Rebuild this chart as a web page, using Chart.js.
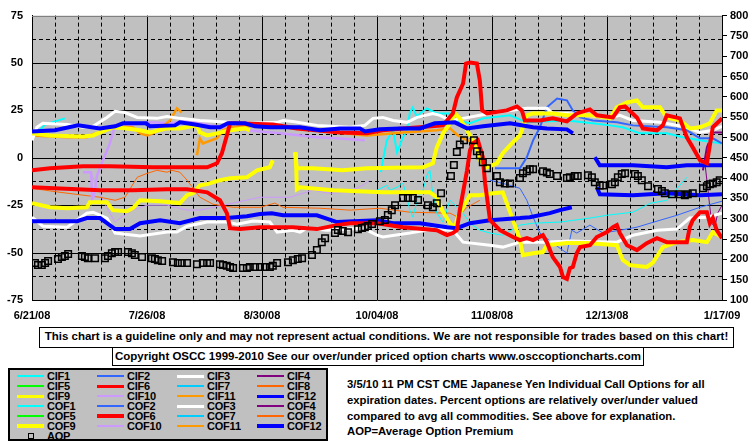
<!DOCTYPE html>
<html>
<head>
<meta charset="utf-8">
<script src="https://cdn.jsdelivr.net/npm/chart.js@4.4.0/dist/chart.umd.min.js"></script>
<style>
  body { margin: 0; background: #fff; }
  #wrap { position: relative; width: 755px; height: 446px; overflow: hidden;
          font-family: "Liberation Sans", Arial, sans-serif; font-weight: bold; color: #000; }
  #chart { position: absolute; left: 0; top: 0; }
  .box { position: absolute; border: 1px solid #000; background: #fff; font-size: 11.5px;
         line-height: 17px; text-align: center; white-space: nowrap; color: #000; }
  #legend { position: absolute; left: 8px; top: 368px; width: 316px; height: 69px;
            border: 2px solid #000; background: #c0c0c0; }
  .lg-line { position: absolute; }
  .lg-text { position: absolute; font-size: 11px; line-height: 10px; white-space: nowrap;
             color: #000; letter-spacing: -0.2px; }
  .lg-box { position: absolute; width: 4px; height: 4px; border: 1.5px solid #000; }
  .note { position: absolute; left: 347px; font-size: 11.3px; line-height: 12px; white-space: nowrap; color: #000; }
</style>
</head>
<body>
<div id="wrap">
  <canvas id="chart" width="755" height="322"></canvas>
  <div class="box" style="left:39px;top:327px;width:693px;height:19px;">This chart is a guideline only and may not represent actual conditions. We are not responsible for trades based on this chart!</div>
  <div class="box" style="left:112px;top:347px;width:530px;height:17px;line-height:16px;">Copyright OSCC 1999-2010 See our over/under priced option charts www.osccoptioncharts.com</div>
  <div id="legend"></div>
  <div id="notes"></div>
</div>
<script>
// x = days since 6/21/08, y = % over/under (left axis); AOP on the right axis
const DATE_TICKS = ['6/21/08', '7/26/08', '8/30/08', '10/04/08', '11/08/08', '12/13/08', '1/17/09'];

const COF12 = [[0,13.9],[7,14.5],[14,17.1],[20.7,15.5],[25.3,16.6],[27.7,18.2],[34.7,18.2],[35.9,16.6],[43.5,17.1],[45,18.7],[49.6,17.6],[54.2,16.1],[57.2,16.1],[59.6,18.2],[64.8,18.2],[67.9,16.6],[72.4,16.1],[81.6,16.1],[87.6,14.5],[93.7,15.5],[99.8,15.5],[101.3,13.9],[105.9,15],[112,15.5],[118.1,15.5],[122.6,18.2],[128.7,18.7],[132.4,15.5],[137.3,16.6],[145.5,18.2],[152.5,16.1],[156.7,15.5],[162.8,15],[164.6,12.9]];
const CIF12 = [[0,-33.4],[13.7,-33.4],[16.7,-31.8],[20.7,-31.8],[25.3,-37.6],[29.8,-37.6],[32.9,-34.5],[39,-32.9],[45,-34.5],[51.1,-31.8],[59.3,-31.8],[65.4,-30.8],[69.4,-29.7],[73,-29.2],[76.4,-30.3],[86.7,-30.3],[92.8,-33.9],[105,-32.9],[109.9,-34.5],[118.1,-34.5],[126.3,-36.6],[129.3,-37.1],[133.3,-34.5],[139.4,-32.9],[148.5,-31.8],[151.5,-31.3],[157.6,-29.2],[160.7,-27.6],[164.3,-26.1]];
const COF12_NEXT = [[171.3,0.3],[172.8,-3.9],[182.9,-3.9],[193.2,-5],[199.3,-3.9],[210,-3.9]];
const CIF12_NEXT = [[171.9,-15.5],[172.8,-19.2],[182.9,-19.7],[193.2,-18.7],[203.3,-19.7],[210,-19.2]];

const COF6 = [[0,-6.6],[5.5,-5.5],[15.5,-4.5],[23.7,-4.5],[36.8,-5],[53.3,-5],[56.3,-2.9],[57.8,2.4],[59.3,11.8],[60.3,18.2],[61.8,18.2],[73.3,17.6],[80.6,15.5],[93.7,13.4],[101.9,12.9],[106.8,14.5],[112.9,15.5],[125.1,17.1],[128.1,23.4],[129.3,31.8],[131.2,39.2],[132.1,49.7],[133.3,50.3],[135.4,49.7],[136.3,40.8],[137,25],[138.5,23.4],[144.5,25],[147.6,27.1],[149.1,25],[150,19.7],[154.6,19.7],[158.5,20.8],[162.8,19.2],[165.8,23.4],[169.8,25.5],[171.9,22.4],[176.8,21.3],[178.9,26.6],[180.5,27.1],[184.1,21.3],[185.9,15.5],[190.2,14.5],[192,17.1],[193.2,22.4],[197.2,20.8],[199.3,10.8],[201.1,5.5],[203.3,-1.3],[205.4,-2.9],[207.2,16.1],[210,20.8]];
const CIF6 = [[0,-15.5],[20.7,-17.1],[30.7,-17.1],[41.1,-16.6],[47.2,-16.6],[53.3,-18.2],[57.2,-22.4],[59.3,-29.2],[60.3,-37.1],[63.3,-37.6],[69.4,-36.6],[79.4,-36.6],[86.7,-37.6],[92.8,-35.5],[96.8,-34.5],[105,-34.5],[112.9,-36.6],[123.2,-38.2],[126.3,-40.8],[128.1,-39.7],[129.3,-38.2],[130.2,-27.6],[132.4,-6.6],[133.3,3.9],[134.2,7.6],[135.7,9.2],[137.2,0.3],[137.9,-13.4],[139.4,-32.9],[142.4,-38.2],[146.4,-41.8],[148.5,-43.4],[150.6,-42.4],[152.5,-43.4],[155.5,-40.8],[156.7,-44.5],[158.5,-52.4],[160.7,-57.6],[161.6,-62.9],[162.8,-63.9],[163.7,-58.2],[164.6,-57.6],[165.8,-50.3],[166.8,-47.1],[169.8,-46.1],[171.9,-41.8],[175,-39.2],[176.8,-36.6],[178,-35.5],[178.9,-39.7],[181.1,-46.1],[184.1,-48.7],[187.1,-45],[190.2,-42.4],[193.2,-44.5],[199.3,-44.5],[200.2,-36.6],[201.1,-32.9],[203.3,-28.7],[205.4,-28.7],[206.3,-34.5],[207.2,-31.8],[208.4,-38.2],[210,-42.4]];

const COF9 = [[0,12.9],[5.5,11.8],[15.5,11.3],[18.6,11.8],[20.7,13.4],[24.6,16.1],[28.9,15.5],[32.9,14.5],[35.9,13.4],[41.1,15.5],[45,15.5],[50.2,17.1],[51.1,13.4],[53.3,11.8],[56.3,12.9],[60.3,14.5],[64.8,15.5],[66.3,14.5]];
const CIF9 = [[0,-23.9],[5.5,-26.1],[10.7,-26.6],[16.7,-26.1],[17.6,-23.4],[22.8,-23.4],[24.6,-27.6],[28.9,-28.2],[30.7,-26.6],[32.9,-22.4],[39,-22.9],[45,-23.9],[47.2,-19.7],[49,-18.7],[51.1,-14.5],[53.3,-13.9],[57.2,-11.8],[60.3,-10.8],[65.4,-10.3],[68.5,-6.6],[72.4,-5],[73.3,-1.3]];
const COF9_NEXT = [[80,2.9],[80.6,-5.5],[85.5,-5.5],[94.6,-6.6],[101.9,-5.5],[119,-5],[122,-2.9],[123.2,5.5],[125.1,12.9],[127.2,18.2],[128.7,23.4],[130.2,20.8],[132.4,14.5],[135.4,5.5],[136.3,-1.3],[138.5,-5],[141.5,-2.9],[143.3,2.4],[146.4,8.2],[148.5,11.8],[149.4,16.1],[150.6,22.4],[152.5,23.4],[158.5,23.4],[162.8,22.4],[170.7,22.4],[175.9,20.8],[178,26.6],[181.1,29.2],[184.1,30.3],[185.9,26.6],[191.1,26.6],[193.2,21.3],[197.2,19.7],[200.2,15.5],[203.3,16.1],[206.3,18.2],[208.4,25],[210,25]];
const CIF9_NEXT = [[80.3,2.9],[80.6,-16.6],[81.6,-15.5],[91.6,-17.1],[106.8,-18.2],[121.1,-18.2],[123.2,-20.8],[124.8,-27.6],[127.2,-34.5],[128.7,-36.6],[129.6,-31.3],[131.2,-26.1],[133.3,-19.7],[136.3,-19.7],[140.3,-18.7],[143.3,-18.2],[144.5,-23.9],[146.4,-32.9],[148.5,-43.4],[149.4,-51.3],[152.5,-50.3],[155.5,-49.7],[156.7,-46.1],[162.8,-45],[168.9,-45],[178,-46.1],[179.8,-53.9],[182,-56.6],[187.1,-57.6],[188.9,-55.5],[192,-47.1],[196.3,-44.5],[201.1,-43.4],[205.4,-44.5],[207.2,-39.2],[210,-41.8]];

const COF3 = [[0,9.2],[1.5,16.1],[3.3,18.2],[10.7,17.6],[15.5,16.1],[18.6,16.6],[22.8,21.3],[25.3,24.5],[28.3,23.9],[32,21.3],[38,20.8],[41.1,21.8],[45,20.8],[51.1,19.7],[60.3,18.7],[66.3,18.2],[74.6,18.7],[76.4,19.7],[79.4,19.2],[86.7,17.1],[96.8,16.1],[101.3,17.1],[103.8,20.8],[106.8,21.3],[109.9,19.7],[114.1,18.7],[117.2,21.3],[122,23.4],[124.2,22.4],[127.2,19.7],[131.2,20.8],[136.3,22.4],[141,23.9],[145.5,25],[150.6,26.1],[156.7,26.1],[158.5,23.4],[162.8,23.4],[175.9,21.3],[178.9,22.4],[182.9,19.7],[191.1,18.7],[199.3,16.1],[203.3,13.4],[207.2,14.5],[210,16.6]];
const CIF3 = [[0,-31.3],[3.3,-36.1],[10.7,-36.6],[16.7,-29.2],[18.6,-28.7],[22.8,-31.8],[25.3,-39.7],[32.9,-41.3],[41.1,-39.2],[44.1,-39.2],[47.2,-36.1],[53.3,-33.9],[59.3,-33.9],[62.4,-35],[67.3,-33.4],[72.4,-33.9],[74.6,-39.2],[79.4,-38.2],[81.6,-39.2],[83.7,-37.1],[89.8,-38.2],[100.7,-37.1],[105,-40.8],[106.8,-41.8],[115,-39.7],[122,-37.6],[128.1,-38.2],[131.2,-44.5],[139.4,-46.1],[143.3,-47.1],[148.5,-44.5],[155.5,-44.5],[163.7,-43.9],[178,-44.5],[182.9,-40.8],[190.2,-38.2],[196.3,-37.6],[200.2,-31.8],[205.4,-31.3],[210,-29.2]];

const COF11 = [[0,11.8],[10.7,10.8],[16.7,10.8],[17.6,11.8],[25.9,16.6],[30.7,16.1],[32.9,12.9],[35,11.8],[36.8,12.9],[39,15.5],[42,19.7],[44.1,26.1],[45.6,23.9]];
const CIF11 = [[50.2,1.3],[51.1,10.3],[52,7.6],[56.3,10.3],[58.1,14.5],[60.3,16.1],[70.3,17.1],[80.6,15.5],[92.8,13.4],[101.9,11.8],[112.9,13.4],[123.2,14.5],[127.2,15.5],[129.6,11.8],[132.4,9.2],[136.3,7.6]];
const CIF8 = [[0,-16.1],[8.5,-18.2],[20.7,-20.8],[25.3,-22.4],[28.3,-20.8],[32,-10.3],[35,-8.2],[38,-6.6],[41.1,-7.6],[42.6,-6.6],[45,-7.6],[47.2,-11.8],[51.1,-20.8],[55.1,-24.5],[61.2,-26.1],[69.4,-26.1],[73.9,-23.9],[76.4,-26.1],[87.6,-26.6],[96.8,-27.6],[105.9,-26.6],[115,-28.7],[127.2,-29.2],[129.6,-31.3],[132.4,-26.1],[136.3,-22.4]];

const COF10 = [[15.5,-7.6],[18,-7.6],[18.3,-22.4],[18.9,-19.7],[19.8,-9.2],[21.6,-1.3],[23.7,7.6],[25.3,17.1],[28.3,17.1],[35.9,18.7],[42,18.2],[48.1,19.7],[51.1,18.2],[59.3,15.5],[75.5,12.9],[86.7,10.8],[92.8,10.3],[101.3,9.2]];
const CIF10 = [[18.3,-9.2],[19.8,-15.5],[21.6,-22.4],[23.7,-29.2],[25.3,-33.9],[26.8,-31.8],[30.7,-27.6],[35,-25],[41.1,-25],[47.2,-27.6],[51.1,-27.6],[55.1,-26.1],[61.2,-23.9],[69.4,-20.8],[78.5,-20.8],[85.5,-17.1],[90.7,-18.7],[95.9,-18.2],[100.7,-14.5],[102.9,-11.8]];

const COF1 = [[106.2,-7.6],[106.8,-1.3],[108,9.2],[109.9,14.5],[111.1,2.9],[112.9,10.8],[114.1,14.5],[115,23.9],[115.9,26.6],[117.2,21.3],[118.1,23.4],[120.2,26.1],[123.2,23.4],[127.2,23.4],[129.3,19.7],[133.3,18.2],[137.3,20.8],[145.5,22.4],[150.6,18.7],[162.8,19.7],[170.7,18.2],[175.9,17.1],[179.8,16.1],[185,12.9],[193.2,12.9],[198.1,10.8],[203.3,9.2],[210,7.6]];
const CIF1 = [[2,14],[4,17.6],[7,19.2],[10,20.8]];
const CIF7 = [[105,-17.1],[108,-14.5],[108.9,-17.1],[111.1,-15.5],[112.9,-13.4],[114.1,-20.8],[115,-27.6],[115.9,-31.3],[117.5,-20.8],[119,-17.1],[120.2,-9.2],[121.1,-6.6],[121.7,-15.5],[123.2,-29.2],[125.1,-33.9],[127.2,-22.4],[131.2,-29.2],[133.3,-34.5],[136.3,-38.2],[139.4,-39.7],[143.3,-40.8],[148.5,-35.5],[152.5,-34.5],[160.7,-33.9],[169.8,-31.8],[175,-30.3],[182.9,-28.7],[188.1,-24],[193.2,-22.4],[199.3,-10.3]];

const COF2 = [[140.9,-5.5],[148.5,-5.5],[150.6,0.3],[152.5,9.2],[154.6,16.1],[156.7,26.6],[159.8,31.3],[162.8,30.3],[164.6,25],[166.8,21.3],[170.7,19.7],[178,18.7],[182.9,17.1],[193.2,16.1],[199.3,14.5],[203.3,10.3],[207.2,10.3],[210,7.6]];
const CIF2 = [[139.4,-11.8],[145.5,-14.5],[148.5,-16.1],[150.6,-22.4],[152.5,-31.3],[154.6,-39.7],[158.5,-45],[162.8,-50.3],[164.3,-38.2],[165.8,-39.7],[169.8,-35.5],[173.8,-39.7],[178.9,-38.2],[184.1,-36.6],[188.1,-34.5],[196.3,-30.3],[203.3,-26.1],[210,-22.9]];

const COF4 = [[204.2,-6.6],[205.4,5.5],[207.2,13.4],[210,13.4]];
const CIF4 = [[204.8,-2.9],[205.4,-11.8],[206.3,-26.1],[206.9,-34.5],[207.8,-36.6],[208.7,-29.2],[210,-25]];

// average option premium, right axis
const AOP = [[0.9,191],[1.8,186],[3,186],[4,191],[4.9,196],[7.9,201],[9.1,206],[10,208],[11,213],[15.2,208],[16.1,206],[17,203],[19.2,203],[22.2,203],[23.1,208],[24.3,215],[25.3,218],[26.2,218],[29.2,218],[30.4,215],[31.3,211],[33.5,206],[36.5,203],[37.4,201],[38.3,198],[39.6,196],[42.9,193],[44.4,191],[45.6,191],[47.2,191],[50.2,188],[52,191],[53.3,191],[54.2,191],[57.2,188],[58.1,186],[59.3,184],[60.3,181],[61.2,179],[64.2,179],[65.4,179],[66.3,181],[67.9,181],[69.4,181],[70.9,181],[72.4,181],[73.3,184],[74.6,191],[77.9,193],[79.4,198],[80.9,201],[82.2,203],[85.2,211],[86.7,223],[88.2,242],[89.2,252],[92.2,265],[93.1,272],[94.6,270],[96.2,267],[99.2,274],[100.4,277],[101.3,279],[102.2,282],[103.5,287],[105.9,294],[107.4,297],[108.3,309],[109.5,321],[110.5,333],[112.9,351],[114.4,351],[115.9,351],[117.5,346],[120.5,333],[122,328],[123.2,338],[124.5,363],[127.5,405],[128.4,432],[129.3,464],[130.2,483],[131.5,493],[134.5,493],[135.4,466],[136.3,456],[137.2,439],[138.5,424],[141.5,405],[142.4,390],[143.9,387],[145.5,387],[148.5,400],[149.4,412],[150.6,417],[151.5,422],[152.5,422],[155.5,417],[156.7,414],[157.6,410],[159.8,405],[162.8,400],[163.7,402],[165.2,405],[166.1,405],[169.2,407],[170.4,402],[171.3,390],[172.8,382],[173.8,382],[176.5,385],[177.4,390],[178.3,402],[179.5,410],[180.5,412],[183.5,410],[184.4,405],[185.6,395],[187.5,380],[190.5,373],[191.7,368],[192.6,363],[194.8,360],[197.2,360],[198.7,358],[199.6,360],[201.1,363],[204.2,375],[205.4,380],[206.3,385],[207.2,387],[208.4,390],[209.3,395]];

// legend rows (label, colour, line width)
const LEGEND = [
  ['CIF1','#00ffff',1.5],['CIF2','#3366ff',1.5],['CIF3','#ffffff',3],['CIF4','#800080',1.5],
  ['CIF5','#00ff00',1.5],['CIF6','#ff0000',3],['CIF7','#00ccff',1.5],['CIF8','#ff6600',1.5],
  ['CIF9','#ffff00',3],['CIF10','#cc99ff',1.5],['CIF11','#ff9900',1.5],['CIF12','#0000ff',3],
  ['COF1','#00ffff',2],['COF2','#3366ff',2],['COF3','#ffffff',3],['COF4','#800080',2],
  ['COF5','#00ff00',2],['COF6','#ff0000',4],['COF7','#00ccff',2],['COF8','#ff6600',2],
  ['COF9','#ffff00',4],['COF10','#cc99ff',2],['COF11','#ff9900',2],['COF12','#0000ff',4]
];

const NOTES = [
  '3/5/10 11 PM CST CME Japanese Yen Individual Call Options for all',
  'expiration dates. Percent options are relatively over/under valued',
  'compared to avg all commodities. See above for explanation.',
  'AOP=Average Option Premium'
];

// draw order: first entry ends up on top
const LINES = [
  ['COF12', COF12, '#0000ff', 4],
  ['COF6', COF6, '#ff0000', 4],
  ['COF12', COF12_NEXT, '#0000ff', 4],
  ['CIF12', CIF12_NEXT, '#0000ff', 4],
  ['CIF6', CIF6, '#ff0000', 4],
  ['COF9', COF9_NEXT, '#ffff00', 4],
  ['CIF12', CIF12, '#0000ff', 4],
  ['COF9', COF9, '#ffff00', 4],
  ['CIF9', CIF9, '#ffff00', 4],
  ['CIF9', CIF9_NEXT, '#ffff00', 4],
  ['COF3', COF3, '#ffffff', 3],
  ['CIF3', CIF3, '#ffffff', 3],
  ['COF11', COF11, '#ff9900', 2.5],
  ['CIF11', CIF11, '#ff9900', 2.5],
  ['COF10', COF10, '#cc99ff', 2.5],
  ['COF2', COF2, '#3366ff', 2],
  ['COF1', COF1, '#00ffff', 2],
  ['CIF7', CIF7, '#00ffff', 1],
  ['CIF2', CIF2, '#3366ff', 1],
  ['CIF8', CIF8, '#ff6600', 1],
  ['CIF10', CIF10, '#cc99ff', 1],
  ['CIF1', CIF1, '#00ffff', 2],
  ['COF4', COF4, '#800080', 2],
  ['CIF4', CIF4, '#800080', 1]
];

const pts = (arr) => arr.map(([x, y]) => ({ x, y }));
const FONT = { family: '"Liberation Sans", Arial, sans-serif', size: 11, weight: 'bold' };

// grey plot background + weekly dashed / 5-week solid grid
const plotGrid = {
  id: 'plotGrid',
  beforeDraw(chart) {
    const { ctx, chartArea: a } = chart;
    ctx.save();
    ctx.fillStyle = '#c0c0c0';
    ctx.fillRect(a.left, a.top, a.width, a.height);
    ctx.restore();
  },
  beforeDatasetsDraw(chart) {
    const { ctx, chartArea: a, scales: { x, y } } = chart;
    ctx.save();
    ctx.strokeStyle = '#000';
    ctx.lineWidth = 1;
    for (let d = 7; d < 210; d += 7) {
      const px = Math.round(x.getPixelForValue(d)) + 0.5;
      ctx.setLineDash(d % 35 === 0 ? [] : [4, 3]);
      ctx.beginPath(); ctx.moveTo(px, a.top); ctx.lineTo(px, a.bottom); ctx.stroke();
    }
    for (let v = -62.5; v < 75; v += 12.5) {
      const py = Math.round(y.getPixelForValue(v)) + 0.5;
      ctx.setLineDash(v % 25 === 0 ? [] : [4, 3]);
      ctx.beginPath(); ctx.moveTo(a.left, py); ctx.lineTo(a.right, py); ctx.stroke();
    }
    ctx.setLineDash([]);
    ctx.strokeStyle = '#808080';
    const top = Math.round(a.top) + 0.5;
    ctx.beginPath(); ctx.moveTo(a.left, top); ctx.lineTo(a.right, top); ctx.stroke();
    ctx.restore();
  }
};

const datasets = [{
  label: 'AOP', data: pts(AOP), yAxisID: 'y2', showLine: false,
  pointStyle: 'rect', pointRadius: 4.6, borderColor: '#000', borderWidth: 1.5,
  pointBackgroundColor: 'rgba(0,0,0,0)', backgroundColor: 'rgba(0,0,0,0)'
}].concat(LINES.map(([label, data, color, width]) => ({
  label, data: pts(data), yAxisID: 'y', borderColor: color, borderWidth: width,
  pointRadius: 0, tension: 0, fill: false
})));

new Chart(document.getElementById('chart'), {
  type: 'line',
  data: { datasets },
  options: {
    responsive: false, animation: false, devicePixelRatio: 1,
    layout: { padding: { top: 15, left: 0, right: 0, bottom: 0 } },
    plugins: { legend: { display: false }, tooltip: { enabled: false } },
    scales: {
      x: {
        type: 'linear', min: 0, max: 210,
        ticks: { stepSize: 35, autoSkip: false, maxRotation: 0, padding: 9, color: '#000', font: FONT,
                 callback: (v) => DATE_TICKS[v / 35] || '' },
        grid: { drawOnChartArea: false, drawTicks: false },
        border: { color: '#000', width: 1 },
        afterFit: (s) => { s.height = 22; }
      },
      y: {
        position: 'left', min: -75, max: 75,
        ticks: { stepSize: 25, padding: 9, color: '#000', font: FONT },
        grid: { drawOnChartArea: false, drawTicks: false },
        border: { color: '#000', width: 1 },
        afterFit: (s) => { s.width = 32; }
      },
      y2: {
        position: 'right', min: 100, max: 800,
        ticks: { stepSize: 50, padding: 3, color: '#000', font: FONT },
        grid: { drawOnChartArea: false, drawTicks: true, tickLength: 5, color: '#000' },
        border: { color: '#000', width: 1 },
        afterFit: (s) => { s.width = 33; }
      }
    }
  },
  plugins: [plotGrid]
});

// legend box
const lg = document.getElementById('legend');
LEGEND.forEach(([label, color, w], i) => {
  const r = Math.floor(i / 4), c = i % 4;
  const cy = 8 + r * 10 - 2;
  const line = document.createElement('div');
  line.className = 'lg-line';
  line.style.cssText = `left:${7 + c * 80}px;top:${cy - w / 2}px;width:27px;height:${w}px;background:${color};`;
  lg.appendChild(line);
  const t = document.createElement('div');
  t.className = 'lg-text';
  t.style.cssText = `left:${37 + c * 80}px;top:${cy - 5}px;`;
  t.textContent = label;
  lg.appendChild(t);
});
const sq = document.createElement('div');
sq.className = 'lg-box';
sq.style.cssText = 'left:18px;top:63px;';
lg.appendChild(sq);
const aopT = document.createElement('div');
aopT.className = 'lg-text';
aopT.style.cssText = 'left:37px;top:61px;';
aopT.textContent = 'AOP';
lg.appendChild(aopT);

// explanation text
const notes = document.getElementById('notes');
NOTES.forEach((s, i) => {
  const d = document.createElement('div');
  d.className = 'note';
  d.style.top = (378 + [0, 16, 32, 47][i]) + 'px';
  d.textContent = s;
  notes.appendChild(d);
});
</script>
</body>
</html>
